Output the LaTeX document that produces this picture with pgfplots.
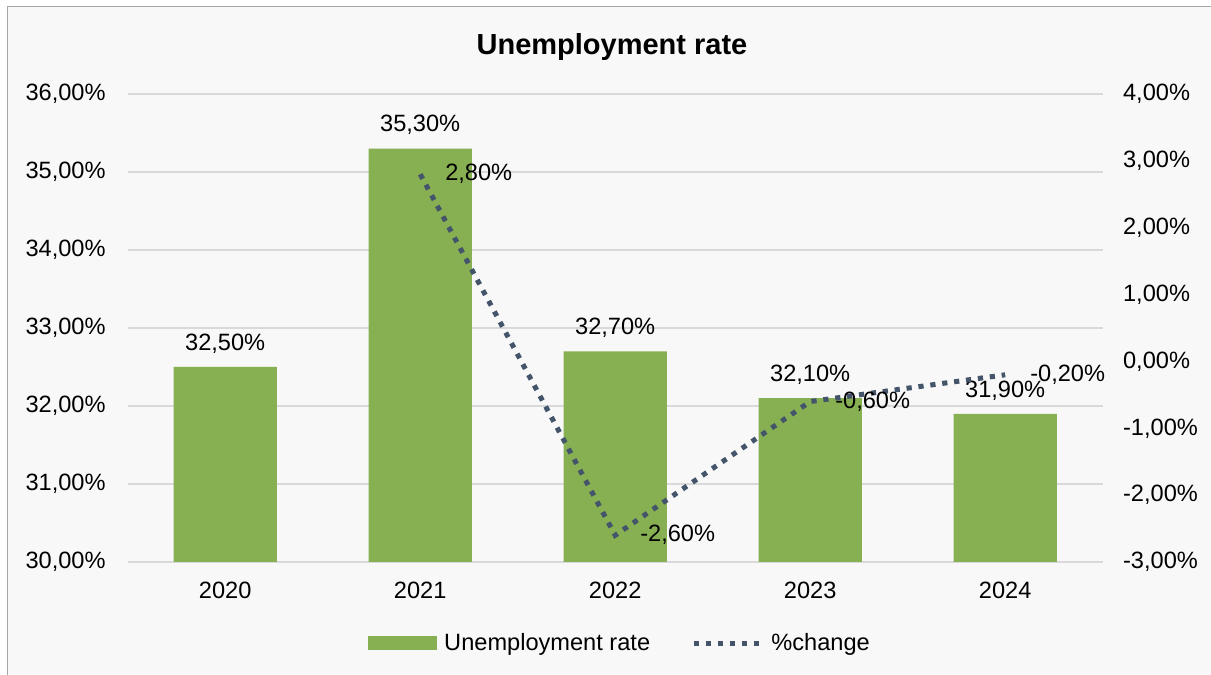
\documentclass[border=0pt]{standalone}
\usepackage{fontspec}
\setmainfont{Liberation Sans}
\usepackage{pgfplots}
\pgfplotsset{compat=1.18}
\definecolor{barGreen}{HTML}{87B052}
\definecolor{lineBlue}{HTML}{44546A}
\definecolor{gridGray}{HTML}{D9D9D9}
\definecolor{bgGray}{HTML}{F8F8F8}
\definecolor{frameGray}{HTML}{A6A6A6}
\newcommand{\lblfont}{\fontsize{11.8pt}{14pt}\selectfont}
\begin{document}
\begin{tikzpicture}
\path[use as bounding box] (0,0) rectangle (605.5pt,337.5pt);
\fill[white] (0,0) rectangle (605.5pt,337.5pt);
\fill[bgGray] (3.75pt,0) rectangle (605.5pt,334.25pt);
\draw[frameGray, line width=0.65pt] (3.75pt,0) -- (3.75pt,334.25pt) -- (605.5pt,334.25pt);
\node[anchor=base, font=\fontsize{14.5pt}{17pt}\selectfont\bfseries] at (306pt,310.35pt) {Unemployment rate};

\begin{axis}[
  at={(63.85pt,56.5pt)}, anchor=south west,
  scale only axis, width=487.5pt, height=234pt,
  xmin=-0.5, xmax=4.5, ymin=30, ymax=36,
  xtick={0,1,2,3,4}, xticklabels={2020,2021,2022,2023,2024},
  ytick={30,31,32,33,34,35,36},
  yticklabels={{30,00\%},{31,00\%},{32,00\%},{33,00\%},{34,00\%},{35,00\%},{36,00\%}},
  axis line style={draw=none},
  major tick length=0pt,
  ymajorgrids, grid style={gridGray, line width=0.65pt},
  tick label style={font=\lblfont, inner sep=0pt},
  yticklabel style={xshift=-10.85pt},
  xticklabel style={yshift=-9.85pt},
  ybar, bar width=51.65pt,
  nodes near coords, point meta=explicit symbolic,
  every node near coord/.append style={font=\lblfont, text=black, anchor=base, inner sep=0pt, yshift=8.3pt},
]
\addplot[fill=barGreen, draw=none] coordinates {
  (0,32.5) [32,50\%]
  (1,35.3) [35,30\%]
  (2,32.7) [32,70\%]
  (3,32.1) [32,10\%]
  (4,31.9) [31,90\%]
};
\end{axis}

\begin{axis}[
  at={(63.85pt,56.5pt)}, anchor=south west,
  scale only axis, width=487.5pt, height=234pt,
  xmin=-0.5, xmax=4.5, ymin=-3, ymax=4,
  axis x line=none, axis y line*=right,
  axis line style={draw=none},
  major tick length=0pt,
  ytick={-3,-2,-1,0,1,2,3,4},
  yticklabels={{-3,00\%},{-2,00\%},{-1,00\%},{0,00\%},{1,00\%},{2,00\%},{3,00\%},{4,00\%}},
  yticklabel style={font=\lblfont, inner sep=0pt, xshift=10.0pt},
  legend columns=2,
  legend style={at={(0.2465,-0.1731)}, anchor=west, draw=none, fill=none,
    font=\lblfont, inner sep=0pt, nodes={inner sep=0pt},
    /tikz/column 1/.style={column sep=3.5pt},
    /tikz/column 2/.style={column sep=20.5pt},
    /tikz/column 3/.style={column sep=5pt}},
]
\addlegendimage{legend image code/.code={\fill[barGreen] (0pt,-3.4pt) rectangle (34pt,3.4pt);}}
\addlegendentry{Unemployment rate}
\addplot[lineBlue, line width=2.5pt, dash pattern=on 2.6pt off 3.4pt,
  nodes near coords, point meta=explicit symbolic,
  every node near coord/.style={font=\lblfont, text=black, anchor=west, inner sep=0pt, xshift=11.3pt},
  legend image code/.code={\draw[lineBlue, line width=2.5pt, dash pattern=on 2.6pt off 3.4pt] (0pt,0pt) -- (32.6pt,0pt);}
] coordinates {
  (1,2.8) [2,80\%]
  (2,-2.6) [-2,60\%]
  (3,-0.6) [-0,60\%]
  (4,-0.2) [-0,20\%]
};
\addlegendentry{\%change}
\end{axis}
\end{tikzpicture}
\end{document}
